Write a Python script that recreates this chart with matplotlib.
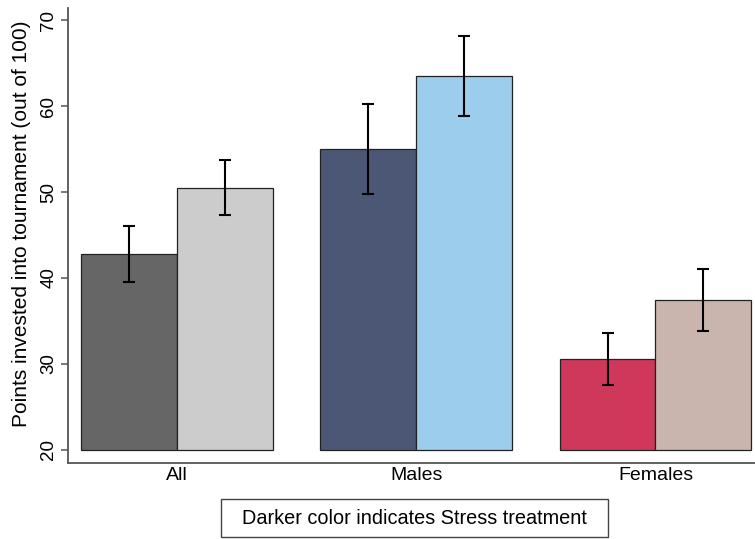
import numpy as np
import matplotlib
matplotlib.use('Agg')
import matplotlib.pyplot as plt
from matplotlib.patches import Rectangle

plt.rcParams['font.family'] = ['Liberation Sans', 'DejaVu Sans']

groups = ['All', 'Males', 'Females']
stress_mean = [42.8, 55.0, 30.6]
stress_lo = [39.5, 49.8, 27.5]
stress_hi = [46.0, 60.2, 33.6]
control_mean = [50.5, 63.5, 37.4]
control_lo = [47.3, 58.9, 33.8]
control_hi = [53.7, 68.1, 41.0]

stress_colors = ['#666666', '#4b5775', '#cf385b']
control_colors = ['#cccccc', '#9ccdec', '#cab4ae']

base = 20
width = 0.401
x = np.arange(len(groups))

W, H = 755, 539
fig = plt.figure(figsize=(W / 100, H / 100), dpi=100)
ax = fig.add_axes([0.0907, 0.1416, 1 - 0.0907, 0.985 - 0.1416])

for means, lo, hi, cols, off in [(stress_mean, stress_lo, stress_hi, stress_colors, -width / 2),
                                 (control_mean, control_lo, control_hi, control_colors, width / 2)]:
    means = np.array(means)
    ax.bar(x + off, means - base, width, bottom=base, color=cols,
           edgecolor='#222222', linewidth=0.9, zorder=2)
    yerr = np.vstack([means - np.array(lo), np.array(hi) - means])
    ax.errorbar(x + off, means, yerr=yerr, fmt='none', ecolor='black',
                elinewidth=1.5, capsize=4.5, capthick=1.5, zorder=3)

ax.set_xlim(-0.4535, 2.416)
ax.set_ylim(18.52, 71.4)
ax.set_yticks([20, 30, 40, 50, 60, 70])
ax.set_xticks(x)
ax.set_xticklabels(groups, fontsize=14)
ax.tick_params(axis='x', length=0, pad=3)
ax.tick_params(axis='y', length=5, width=1.1, color='#555555', pad=3, labelsize=13.5)
for lab in ax.get_yticklabels():
    lab.set_rotation(90)
    lab.set_va('center')
ax.set_ylabel('Points invested into tournament (out of 100)', fontsize=15)
# label centred a bit below the middle of the axis, as in the original
ax.yaxis.set_label_coords(-0.055, (46.3 - 18.52) / (71.4 - 18.52))

for side in ['top', 'right']:
    ax.spines[side].set_visible(False)
for side in ['left', 'bottom']:
    ax.spines[side].set_color('#555555')
    ax.spines[side].set_linewidth(1.3)

# note box under the plot
bx0, bx1, by0, by1 = 221, 608, 499, 537
fig.patches.append(Rectangle((bx0 / W, 1 - by1 / H), (bx1 - bx0) / W, (by1 - by0) / H,
                             transform=fig.transFigure, facecolor='white',
                             edgecolor='#444444', linewidth=1))
fig.text((bx0 + bx1) / 2 / W, 1 - (by0 + by1) / 2 / H,
         'Darker color indicates Stress treatment', fontsize=14.3,
         ha='center', va='center')

fig.savefig('out.png', dpi=100)
